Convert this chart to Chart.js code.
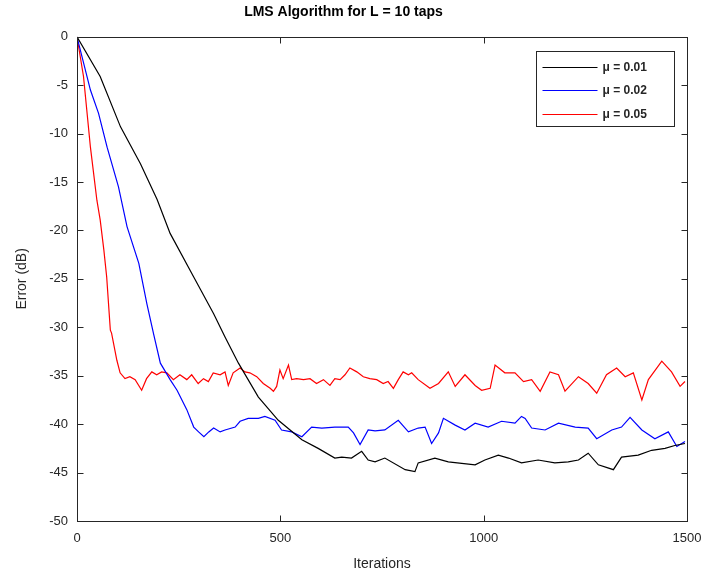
<!DOCTYPE html>
<html>
<head>
<meta charset="utf-8">
<script src="https://cdn.jsdelivr.net/npm/chart.js@4"></script>
<style>
  html, body { margin: 0; padding: 0; background: #fff; }
  #wrap { width: 707px; height: 575px; }
</style>
</head>
<body>
<div id="wrap"><canvas id="lmsChart"></canvas></div>
<script>
// values
var xTicks = [0, 500, 1000, 1500];
var yTicks = [0, -5, -10, -15, -20, -25, -30, -35, -40, -45, -50];
var labels = ['\u03BC = 0.01', '\u03BC = 0.02', '\u03BC = 0.05'];

var iterA = [0, 57, 107, 156, 197, 229, 287, 336, 364, 397, 446, 495, 553, 593, 634, 651, 675, 700, 716, 733, 757, 807, 831, 839, 880, 913, 979, 1003, 1036, 1061, 1093, 1134, 1175, 1208, 1233, 1257, 1282, 1319, 1339, 1380, 1413, 1446, 1470, 1495];
var errA = [0, -4.1, -9.3, -13.1, -16.8, -20.3, -24.8, -28.6, -31.0, -33.7, -37.2, -39.6, -41.6, -42.5, -43.5, -43.4, -43.5, -42.8, -43.7, -43.9, -43.5, -44.7, -44.9, -44.0, -43.5, -43.9, -44.2, -43.7, -43.2, -43.5, -44.0, -43.7, -44.0, -43.9, -43.7, -43.0, -44.2, -44.7, -43.4, -43.2, -42.7, -42.5, -42.2, -42.0];

var iterB = [0, 33, 53, 74, 102, 123, 152, 172, 189, 205, 229, 246, 270, 287, 299, 312, 324, 336, 352, 364, 389, 401, 421, 446, 462, 487, 503, 528, 553, 577, 602, 634, 667, 680, 696, 716, 733, 757, 790, 815, 839, 856, 872, 889, 901, 930, 954, 979, 1011, 1044, 1077, 1093, 1102, 1118, 1151, 1184, 1225, 1257, 1278, 1315, 1339, 1360, 1389, 1421, 1454, 1475, 1495];
var errB = [0, -5.5, -7.9, -11.4, -15.5, -19.6, -23.4, -27.6, -30.8, -33.7, -35.4, -36.5, -38.5, -40.3, -40.8, -41.3, -40.8, -40.4, -40.8, -40.6, -40.3, -39.7, -39.4, -39.4, -39.2, -39.6, -40.6, -40.8, -41.3, -40.3, -40.4, -40.3, -40.3, -40.9, -42.1, -40.6, -40.7, -40.6, -39.6, -40.8, -40.4, -40.3, -42.0, -40.9, -39.4, -40.1, -40.6, -39.9, -40.3, -39.7, -39.9, -39.2, -39.4, -40.4, -40.6, -39.9, -40.3, -40.4, -41.5, -40.6, -40.3, -39.3, -40.6, -41.5, -40.8, -42.3, -41.8];

var iterC = [0, 16, 33, 49, 57, 66, 73, 82, 85, 98, 106, 118, 130, 143, 159, 171, 184, 196, 208, 221, 237, 253, 270, 282, 298, 311, 323, 335, 352, 364, 372, 384, 401, 413, 425, 442, 458, 475, 483, 491, 499, 507, 520, 528, 540, 557, 573, 589, 606, 622, 634, 647, 659, 671, 688, 704, 720, 737, 753, 765, 778, 790, 802, 815, 823, 839, 868, 889, 913, 930, 954, 979, 995, 1016, 1028, 1052, 1077, 1098, 1118, 1139, 1163, 1184, 1200, 1233, 1257, 1278, 1302, 1327, 1348, 1368, 1389, 1405, 1438, 1462, 1483, 1495];
var errC = [0, -4.1, -11.4, -16.9, -18.9, -22.0, -24.8, -30.3, -30.6, -33.4, -34.7, -35.3, -35.1, -35.4, -36.5, -35.3, -34.6, -34.9, -34.6, -34.7, -35.4, -34.9, -35.4, -34.9, -35.8, -35.3, -35.6, -34.7, -34.9, -34.6, -36.0, -34.7, -34.2, -34.6, -34.7, -35.1, -35.8, -36.3, -36.6, -36.1, -34.4, -35.3, -33.9, -35.4, -35.3, -35.4, -35.3, -35.8, -35.4, -36.0, -35.3, -35.4, -34.9, -34.2, -34.6, -35.1, -35.3, -35.4, -35.8, -35.6, -36.3, -35.4, -34.6, -34.9, -34.7, -35.4, -36.3, -35.8, -34.6, -36.1, -34.9, -36.0, -36.5, -36.3, -33.9, -34.7, -34.7, -35.6, -35.4, -36.6, -34.6, -34.9, -36.6, -35.1, -35.8, -36.8, -34.9, -34.2, -35.1, -34.7, -37.5, -35.4, -33.5, -34.6, -36.1, -35.6];

var colors = ['#000000', '#0000ff', '#ff0000'];
var axisColor = '#262626';

function pairs(xs, ys) {
    return xs.map(function (x, i) { return { x: x, y: ys[i] }; });
}

// box + inward ticks, like a matlab axes
var boxPlugin = {
    id: 'box',
    afterDatasetsDraw: function (chart) {
        var ctx = chart.ctx, a = chart.chartArea;
        var xs = chart.scales.x, ys = chart.scales.y;
        var L = Math.round(a.left) + 0.5, R = Math.round(a.right) + 0.5;
        var T = Math.round(a.top) + 0.5, B = Math.round(a.bottom) + 0.5;
        ctx.save();
        ctx.strokeStyle = axisColor;
        ctx.lineWidth = 1;
        ctx.strokeRect(L, T, R - L, B - T);
        ctx.beginPath();
        xTicks.forEach(function (v) {
            var px = Math.round(xs.getPixelForValue(v)) + 0.5;
            ctx.moveTo(px, B); ctx.lineTo(px, B - 6);
            ctx.moveTo(px, T); ctx.lineTo(px, T + 6);
        });
        yTicks.forEach(function (v) {
            var py = Math.round(ys.getPixelForValue(v)) + 0.5;
            ctx.moveTo(L, py); ctx.lineTo(L + 6, py);
            ctx.moveTo(R, py); ctx.lineTo(R - 6, py);
        });
        ctx.stroke();

        // legend box
        var bw = 138, bh = 75;
        var bx = Math.round(a.right) - 13 - bw + 0.5, by = Math.round(a.top) + 14 + 0.5;
        ctx.fillStyle = '#fff';
        ctx.fillRect(bx, by, bw, bh);
        ctx.strokeStyle = axisColor;
        ctx.strokeRect(bx, by, bw, bh);
        ctx.font = 'bold 12px "Liberation Sans", Arial, sans-serif';
        ctx.textBaseline = 'middle';
        ctx.textAlign = 'left';
        chart.data.datasets.forEach(function (ds, i) {
            var cy = Math.round(by + 15 + i * 23.5) + 0.5;
            ctx.strokeStyle = ds.borderColor;
            ctx.lineWidth = 1.2;
            ctx.beginPath();
            ctx.moveTo(bx + 6, cy); ctx.lineTo(bx + 61, cy);
            ctx.stroke();
            ctx.fillStyle = axisColor;
            ctx.fillText(ds.label, bx + 66, cy);
        });
        ctx.restore();
    }
};

var ctxL = document.getElementById('lmsChart').getContext('2d');
var lmsChart = new Chart(ctxL, {
    type: 'line',
    data: {
        datasets: [{
            label: labels[0],
            data: pairs(iterA, errA),
            borderColor: colors[0],
        }, {
            label: labels[1],
            data: pairs(iterB, errB),
            borderColor: colors[1],
        }, {
            label: labels[2],
            data: pairs(iterC, errC),
            borderColor: colors[2],
        }]
    },
    options: {
        responsive: true,
        maintainAspectRatio: false,
        animation: false,
        elements: {
            line: { borderWidth: 1.2, tension: 0, fill: false },
            point: { radius: 0 }
        },
        layout: { padding: { left: 0, right: 20, top: 0, bottom: 0 } },
        plugins: {
            legend: { display: false },
            tooltip: { enabled: false },
            title: {
                display: true,
                text: 'LMS Algorithm for L = 10 taps',
                color: '#000',
                font: { family: '"Liberation Sans", Arial, sans-serif', size: 14, weight: 'bold' },
                padding: { top: 4, bottom: 16 }
            }
        },
        scales: {
            x: {
                type: 'linear',
                min: 0,
                max: 1500,
                afterBuildTicks: function (s) { s.ticks = xTicks.map(function (v) { return { value: v }; }); },
                afterFit: function (s) { s.height = 54; s.paddingRight = 0; s.paddingLeft = 0; },
                grid: { display: false, drawTicks: false },
                border: { display: false },
                ticks: {
                    padding: 10,
                    color: axisColor,
                    font: { family: '"Liberation Sans", Arial, sans-serif', size: 13 },
                    callback: function (v) { return String(v); }
                },
                title: {
                    display: true,
                    text: 'Iterations',
                    color: axisColor,
                    padding: { top: 2, bottom: 2 },
                    font: { family: '"Liberation Sans", Arial, sans-serif', size: 14 }
                }
            },
            y: {
                type: 'linear',
                min: -50,
                max: 0,
                afterBuildTicks: function (s) { s.ticks = yTicks.map(function (v) { return { value: v }; }); },
                afterFit: function (s) { s.width = 77; },
                grid: { display: false, drawTicks: false },
                border: { display: false },
                ticks: {
                    padding: 9,
                    color: axisColor,
                    font: { family: '"Liberation Sans", Arial, sans-serif', size: 13 }
                },
                title: {
                    display: true,
                    text: 'Error (dB)',
                    color: axisColor,
                    padding: { top: 14, bottom: 0 },
                    font: { family: '"Liberation Sans", Arial, sans-serif', size: 14 }
                }
            }
        }
    },
    plugins: [boxPlugin]
});
</script>
</body>
</html>
